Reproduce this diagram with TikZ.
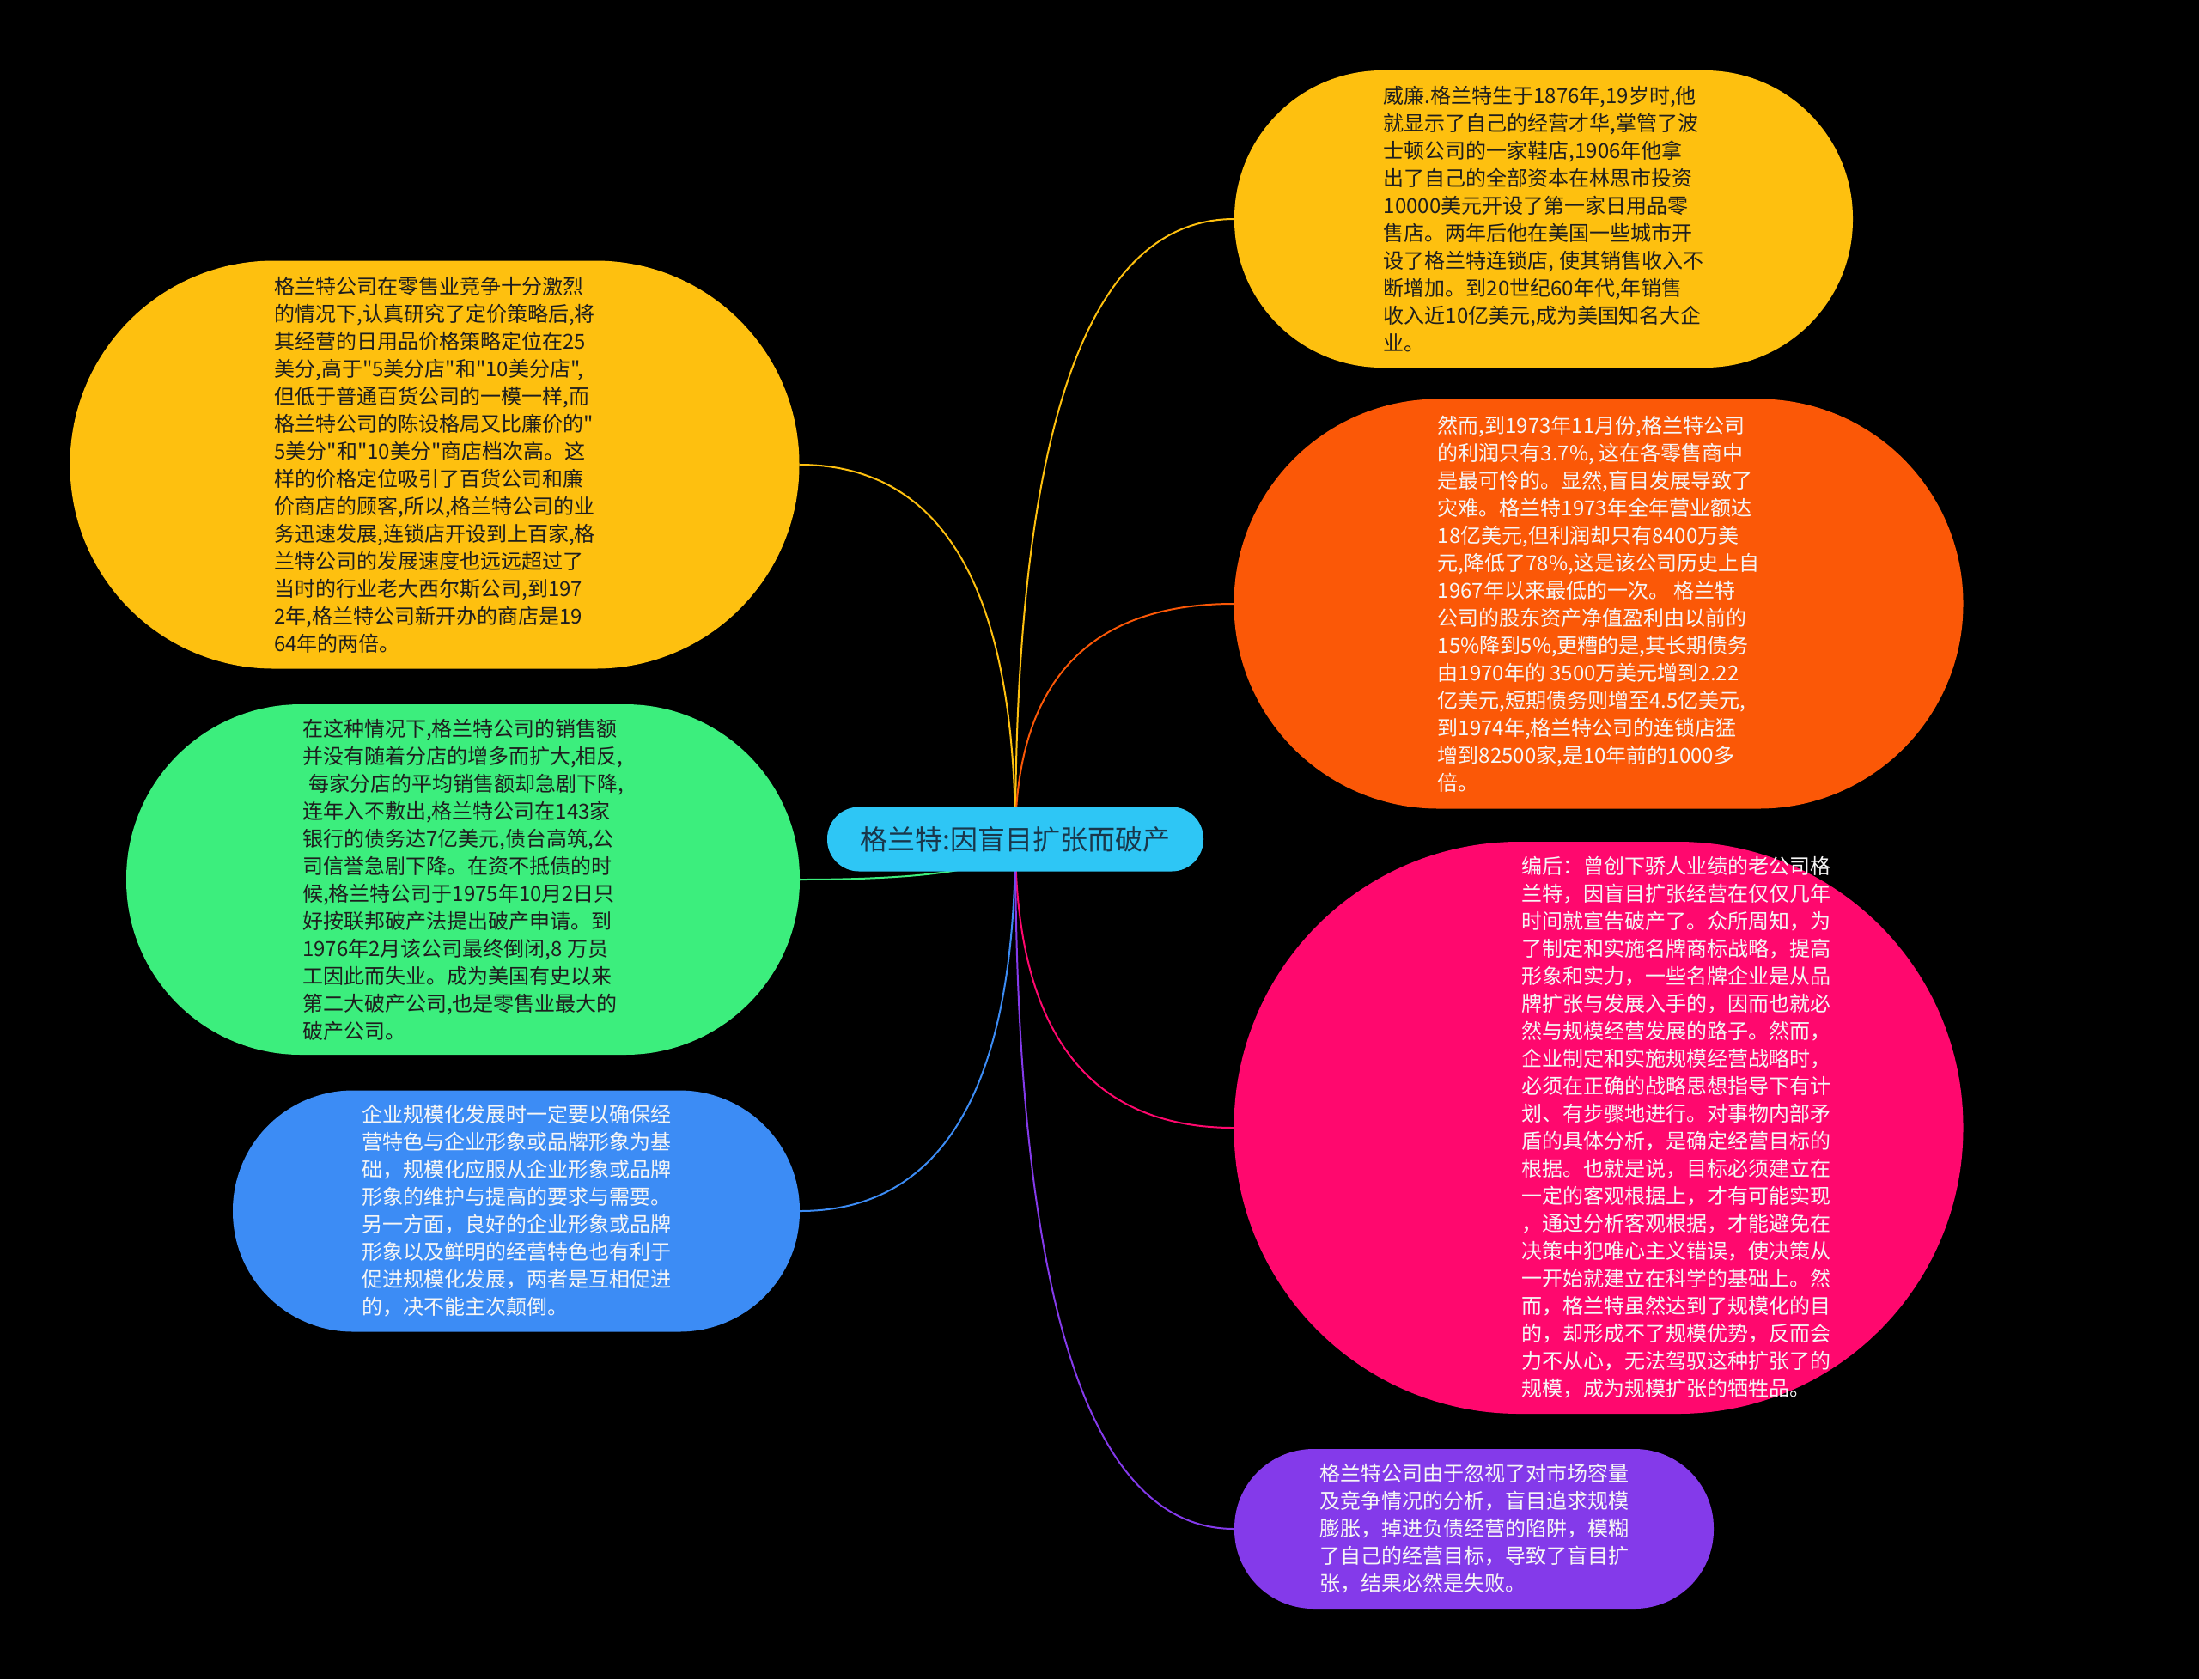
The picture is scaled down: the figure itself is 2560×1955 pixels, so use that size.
\documentclass[tikz,border=0pt]{standalone}
\usepackage{fontspec}
\setmainfont{Noto Sans CJK SC}[Ligatures=TeXOff]
\usepackage{tikz}
\usetikzlibrary{calc}
\pgfdeclarelayer{bg}
\pgfdeclarelayer{edges}
\pgfsetlayers{bg,edges,main}
\definecolor{cYellow}{RGB}{254,192,15}
\definecolor{cOrange}{RGB}{251,88,7}
\definecolor{cGreen}{RGB}{60,238,125}
\definecolor{cPink}{RGB}{255,8,110}
\definecolor{cBlue}{RGB}{60,140,245}
\definecolor{cPurple}{RGB}{132,58,234}
\definecolor{cCyan}{RGB}{46,198,245}
\definecolor{inkDark}{RGB}{30,30,30}
\definecolor{inkLight}{RGB}{246,246,246}
\definecolor{inkRoot}{RGB}{25,55,75}
\tikzset{topic/.style={align=left,inner sep=0pt,font=\fontsize{24}{32}\selectfont},
 rootbox/.style={fill=cCyan,text=inkRoot,minimum width=438pt,minimum height=75pt,
  rounded corners=37pt,inner sep=0pt,font=\fontsize{32}{36}\selectfont},
 branch/.style={line width=2pt,to path={.. controls ($(\tikztostart)!2/3!(\tikztostart|-\tikztotarget)$)
  and ($(\tikztotarget)!2/3!(\tikztostart|-\tikztotarget)$) .. (\tikztotarget)}},
 every picture/.style={line join=round,line cap=round}}

\begin{document}
\begin{tikzpicture}[x=1pt,y=-1pt]
\begin{pgfonlayer}{bg}
\fill[black] (0,0) rectangle (2560,1955);
\end{pgfonlayer}
\node[rootbox] (root) at (1182,977) {格兰特:因盲目扩张而破产};
\node[topic,fill=cYellow,text=inkDark,minimum width=720pt,minimum height=346pt,rounded corners=172pt] (founder) at (1797,255) {威廉.格兰特生于1876年,19岁时,他\\就显示了自己的经营才华,掌管了波\\士顿公司的一家鞋店,1906年他拿\\出了自己的全部资本在林思市投资\\10000美元开设了第一家日用品零\\售店。两年后他在美国一些城市开\\设了格兰特连锁店, 使其销售收入不\\断增加。到20世纪60年代,年销售\\收入近10亿美元,成为美国知名大企\\业。};
\node[topic,fill=cYellow,text=inkDark,minimum width=849pt,minimum height=475pt,rounded corners=237pt] (pricing) at (506,541) {格兰特公司在零售业竞争十分激烈\\的情况下,认真研究了定价策略后,将\\其经营的日用品价格策略定位在25\\美分,高于"5美分店"和"10美分店",\\但低于普通百货公司的一模一样,而\\格兰特公司的陈设格局又比廉价的"\\5美分"和"10美分"商店档次高。这\\样的价格定位吸引了百货公司和廉\\价商店的顾客,所以,格兰特公司的业\\务迅速发展,连锁店开设到上百家,格\\兰特公司的发展速度也远远超过了\\当时的行业老大西尔斯公司,到197\\2年,格兰特公司新开办的商店是19\\64年的两倍。};
\node[topic,fill=cOrange,text=inkLight,minimum width=849pt,minimum height=477pt,rounded corners=238pt] (decline) at (1861,703) {然而,到1973年11月份,格兰特公司\\的利润只有3.7\%, 这在各零售商中\\是最可怜的。显然,盲目发展导致了\\灾难。格兰特1973年全年营业额达\\18亿美元,但利润却只有8400万美\\元,降低了78\%,这是该公司历史上自\\1967年以来最低的一次。 格兰特\\公司的股东资产净值盈利由以前的\\15\%降到5\%,更糟的是,其长期债务\\由1970年的 3500万美元增到2.22\\亿美元,短期债务则增至4.5亿美元,\\到1974年,格兰特公司的连锁店猛\\增到82500家,是10年前的1000多\\倍。};
\node[topic,fill=cGreen,text=inkDark,minimum width=784pt,minimum height=408pt,rounded corners=203pt] (collapse) at (539,1024) {在这种情况下,格兰特公司的销售额\\并没有随着分店的增多而扩大,相反,\\\hspace*{0.3em}每家分店的平均销售额却急剧下降,\\连年入不敷出,格兰特公司在143家\\银行的债务达7亿美元,债台高筑,公\\司信誉急剧下降。在资不抵债的时\\候,格兰特公司于1975年10月2日只\\好按联邦破产法提出破产申请。到\\1976年2月该公司最终倒闭,8 万员\\工因此而失业。成为美国有史以来\\第二大破产公司,也是零售业最大的\\破产公司。};
\node[fill=cPink,minimum width=849pt,minimum height=666pt,rounded corners=332pt] (commentbox) at (1861,1313) {};
\node[topic,text=inkLight] (comment) at (1951,1313) {编后：曾创下骄人业绩的老公司格\\兰特，因盲目扩张经营在仅仅几年\\时间就宣告破产了。众所周知，为\\了制定和实施名牌商标战略，提高\\形象和实力，一些名牌企业是从品\\牌扩张与发展入手的，因而也就必\\然与规模经营发展的路子。然而，\\企业制定和实施规模经营战略时，\\必须在正确的战略思想指导下有计\\划、有步骤地进行。对事物内部矛\\盾的具体分析，是确定经营目标的\\根据。也就是说，目标必须建立在\\一定的客观根据上，才有可能实现\\，通过分析客观根据，才能避免在\\决策中犯唯心主义错误，使决策从\\一开始就建立在科学的基础上。然\\而，格兰特虽然达到了规模化的目\\的，却形成不了规模优势，反而会\\力不从心，无法驾驭这种扩张了的\\规模，成为规模扩张的牺牲品。};
\node[topic,fill=cBlue,text=inkLight,minimum width=660pt,minimum height=281pt,rounded corners=140pt] (brand) at (601,1410) {企业规模化发展时一定要以确保经\\营特色与企业形象或品牌形象为基\\础，规模化应服从企业形象或品牌\\形象的维护与提高的要求与需要。\\另一方面，良好的企业形象或品牌\\形象以及鲜明的经营特色也有利于\\促进规模化发展，两者是互相促进\\的，决不能主次颠倒。};
\node[topic,fill=cPurple,text=inkLight,minimum width=558pt,minimum height=186pt,rounded corners=92pt] (lesson) at (1716,1780) {格兰特公司由于忽视了对市场容量\\及竞争情况的分析，盲目追求规模\\膨胀，掉进负债经营的陷阱，模糊\\了自己的经营目标，导致了盲目扩\\张，结果必然是失败。};
\begin{pgfonlayer}{edges}
\draw[branch,draw=cYellow] (root.center) to (founder.west);
\draw[branch,draw=cYellow] (root.center) to (pricing.east);
\draw[branch,draw=cOrange] (root.center) to (decline.west);
\draw[branch,draw=cGreen] (root.center) to (collapse.east);
\draw[branch,draw=cPink] (root.center) to (commentbox.west);
\draw[branch,draw=cBlue] (root.center) to (brand.east);
\draw[branch,draw=cPurple] (root.center) to (lesson.west);
\end{pgfonlayer}
\end{tikzpicture}
\end{document}
